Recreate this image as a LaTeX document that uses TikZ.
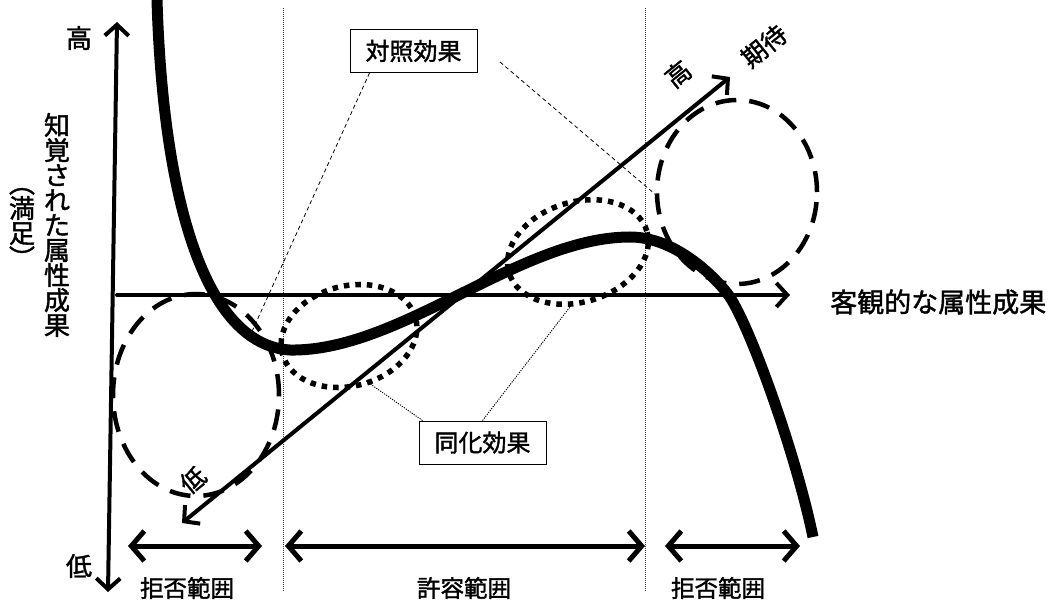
\documentclass[tikz,border=0pt]{standalone}
\usepackage{fontspec}
\newfontfamily\jp{Noto Sans CJK JP}[FakeBold=1.5]
\usetikzlibrary{arrows.meta,calc}
\begin{document}
\begin{tikzpicture}[x=1pt,y=-1pt,
  lbl/.style={font=\jp\fontsize{26}{25}\selectfont, inner sep=0pt},
  rotlbl/.style={font=\jp\fontsize{25}{25}\selectfont, inner sep=0pt, rotate=39},
  biglbl/.style={font=\jp\fontsize{27}{27}\selectfont, inner sep=0pt},
  rnglbl/.style={font=\jp\fontsize{23.5}{23.5}\selectfont, inner sep=0pt},
  boxlbl/.style={font=\jp\fontsize{24}{24}\selectfont, draw, line width=1pt, minimum width=127pt, minimum height=43pt, inner sep=0pt},
  barbtip/.tip={Straight Barb[length=11pt,width=24pt]},
  axisline/.style={line width=4pt, line cap=round, line join=round},
  rangearrow/.style={line width=5pt, line cap=round, line join=round, {Straight Barb[length=13pt,width=30pt]}-{Straight Barb[length=13pt,width=30pt]}},
  divider/.style={line width=0.8pt, dash pattern=on 1pt off 1pt, black!80},
  rejectring/.style={line width=4.5pt, dash pattern=on 21pt off 13pt},
  assimring/.style={line width=5.5pt, dash pattern=on 5.5pt off 6pt},
  contrastlead/.style={line width=0.8pt, dash pattern=on 4pt off 3pt},
  assimlead/.style={line width=0.9pt, dash pattern=on 1.2pt off 1.2pt},
  curveline/.style={line width=11pt}
]
\useasboundingbox (0,0) rectangle (1056,601);
% dividers
\coordinate (d1t) at (283,8);
\coordinate (d1b) at (283,592);
\coordinate (d2t) at (645,8);
\coordinate (d2b) at (645,592);
\draw[divider] (d1t) -- (d1b);
\draw[divider] (d2t) -- (d2b);
% dashed rejection rings
\draw[rejectring] (196,395) ellipse [x radius=83pt, y radius=101pt];
\draw[rejectring] (737,192) ellipse [x radius=80pt, y radius=92pt];
% dotted assimilation rings
\draw[assimring, rotate around={15:(349,336)}] (349,336) ellipse [x radius=69pt, y radius=50pt];
\draw[assimring, rotate around={17:(578,252)}] (578,252) ellipse [x radius=72pt, y radius=50pt];
% vertical axis
\coordinate (vtop) at (117,22);
\coordinate (vbot) at (108,592);
\draw[axisline, barbtip-barbtip] (vbot) -- (vtop);
% horizontal axis
\coordinate (hl) at (117,295);
\coordinate (hr) at (790,295);
\draw[axisline, -barbtip] (hl) -- (hr);
% expectation diagonal
\coordinate (elow) at (182,523);
\coordinate (ehigh) at (730,77);
\draw[axisline, barbtip-barbtip] (elow) -- (ehigh);
% curve
\draw[curveline] (157,0) .. controls (163,200) and (205,345) .. (290,350)
  .. controls (400,352) and (520,237) .. (630,237)
  .. controls (670,237) and (707,268) .. (727,293)
  .. controls (747,318) and (795,450) .. (813,537);
% range arrows
\coordinate (r1a) at (128,546);
\coordinate (r1b) at (262,546);
\coordinate (r2a) at (285,546);
\coordinate (r2b) at (645,546);
\coordinate (r3a) at (665,546);
\coordinate (r3b) at (800,546);
\draw[rangearrow] (r1a) -- (r1b);
\draw[rangearrow] (r2a) -- (r2b);
\draw[rangearrow] (r3a) -- (r3b);
% labels
\node[lbl] (hi) at (79,38) {高};
\node[lbl] (lo) at (79,566) {低};
\node[lbl, align=center] (ylab) at (57,225) {知\\覚\\さ\\れ\\た\\属\\性\\成\\果};
\node[lbl, align=center] (ysub) at (22,228) {︵\\満\\足\\︶};
\node[biglbl, anchor=west] (xlab) at (830,302) {客観的な属性成果};
\node[rotlbl] (elo) at (193,480) {低};
\node[rotlbl] (ehi) at (678,74) {高};
\node[rotlbl] (eexp) at (764,46) {期待};
\node[rnglbl] (rej1) at (187,588) {拒否範囲};
\node[rnglbl] (acc) at (464,588) {許容範囲};
\node[rnglbl] (rej2) at (718,588) {拒否範囲};
% effect boxes
\node[boxlbl, fill=white] (contrast) at (413.5,51) {対照効果};
\node[boxlbl, fill=white] (assim) at (482.5,442.5) {同化効果};
% leaders
\coordinate (c1end) at (249,338);
\coordinate (c2start) at (500,62);
\coordinate (c2end) at (656,195);
\draw[contrastlead] (contrast.south west) ++(20,0) coordinate (c1start) -- (c1end);
\draw[contrastlead] (c2start) -- (c2end);
\coordinate (a1end) at (366,381);
\coordinate (a2end) at (573,303);
\draw[assimlead] (assim.north west) ++(4,0) coordinate (a1start) -- (a1end);
\draw[assimlead] (assim.north west) ++(64,0) coordinate (a2start) -- (a2end);
\end{tikzpicture}
\end{document}
